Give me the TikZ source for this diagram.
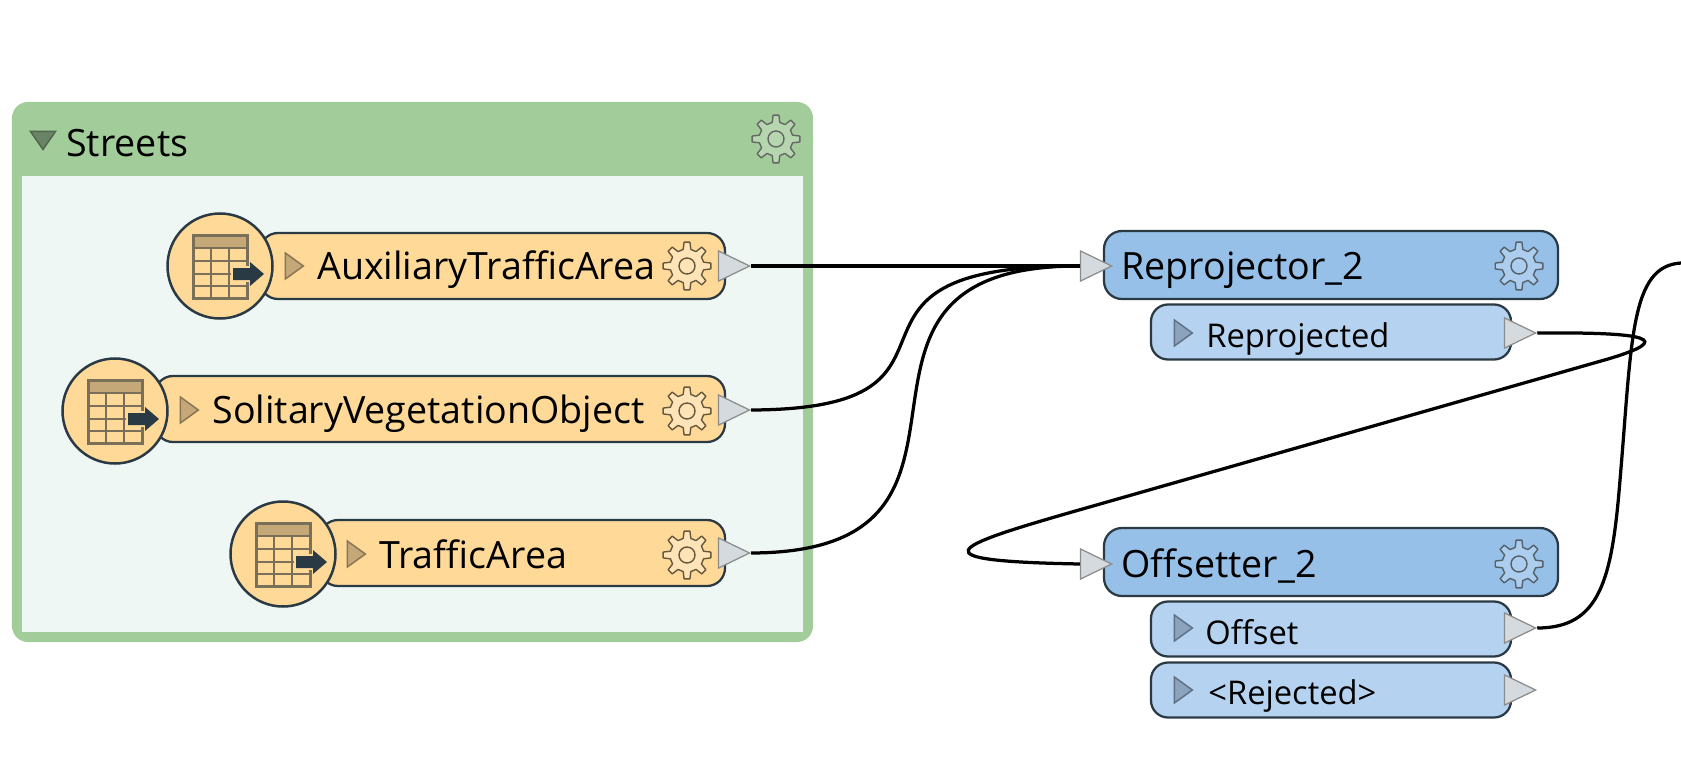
\documentclass[tikz,border=0pt]{standalone}
\usepackage{fontspec}
\setmainfont{Open Sans}
\usetikzlibrary{shapes.geometric}
\definecolor{groupgreen}{HTML}{A3CC9B}
\definecolor{groupfill}{HTML}{EEF7F4}
\definecolor{barorange}{HTML}{FFD998}
\definecolor{boxblue}{HTML}{97C0E8}
\definecolor{subblue}{HTML}{B5D3F0}
\definecolor{edge}{HTML}{2A3A45}
\definecolor{tablebrown}{HTML}{C4A878}
\definecolor{tableline}{HTML}{7A6F58}
\definecolor{portgrey}{HTML}{D5DADE}
\definecolor{markblue}{HTML}{8BA3BF}
\tikzset{
	bigtext/.style={anchor=base west,inner sep=0,font=\fontsize{21.4}{21.4}\selectfont,text=black},
	smalltext/.style={anchor=base west,inner sep=0,font=\fontsize{18.6}{18.6}\selectfont,text=black},
	featbar/.style={draw=edge,line width=.45mm,fill=barorange,rounded corners=3.6mm,minimum height=13.2mm,inner sep=0},
	mainbox/.style={draw=edge,line width=.45mm,fill=boxblue,rounded corners=3.6mm,minimum width=90.8mm,minimum height=13.6mm,inner sep=0},
	subbox/.style={draw=edge,line width=.45mm,fill=subblue,rounded corners=3.4mm,minimum width=72mm,minimum height=11mm,inner sep=0},
	readercircle/.style={circle,draw=edge,line width=.5mm,fill=barorange,minimum size=21mm,inner sep=0},
	port/.style={isosceles triangle,isosceles triangle stretches,shape border rotate=0,draw=black!45,line width=.25mm,fill=portgrey,minimum width=6mm,minimum height=6.2mm,inner sep=0},
	marker/.style={isosceles triangle,isosceles triangle stretches,shape border rotate=0,draw=#1!70!black,line width=.3mm,fill=#1,minimum width=5.2mm,minimum height=3.6mm,inner sep=0},
	wire/.style={draw=black,line width=.65mm}
}
% gear: x, y, line colour, fill colour
\newcommand{\gearicon}[4]{
	\draw[shift={(#1,#2)},draw=#3,fill=#4,line width=.28mm,line join=round] (-13:17) \foreach \a in {0,45,...,315} {-- (\a-13:17) -- (\a-7:24) -- (\a+7:24) -- (\a+13:17)} -- cycle (0:8) arc (0:360:8);
}
% table with arrow, at the centre of a reader circle
\newcommand{\tableicon}[2]{
	\begin{scope}[shift={(#1,#2)}]
		\fill[tablebrown] (-27,-31) rectangle (27,-18);
		\draw[tableline,line width=.6mm] (-27,-31) rectangle (27,32);
		\foreach \u in {-18,-5,8,20} \draw[tableline,line width=.55mm] (-27,\u) -- (27,\u);
		\foreach \u in {-9,9} \draw[tableline,line width=.55mm] (\u,-18) -- (\u,32);
		\fill[barorange] (11,0) rectangle (31,16);
		\fill[edge] (13,2) -- (30,2) -- (30,-4) -- (44,8) -- (30,20) -- (30,14) -- (13,14) -- cycle;
	\end{scope}
}
\begin{document}
\begin{tikzpicture}[x=.2mm,y=-.2mm]
	\useasboundingbox (0,0) rectangle (1681,772);
	% group
	\node[fill=groupgreen,rounded corners=3.2mm,minimum width=160.2mm,minimum height=108mm,inner sep=0] (streets) at (412.5,372) {};
	\node[fill=groupfill,minimum width=156.2mm,minimum height=91.2mm,inner sep=0] (streetsinner) at (412.5,404) {};
	\node[isosceles triangle,isosceles triangle stretches,shape border rotate=-90,draw=black!50!groupgreen,fill=black!35!groupgreen,line width=.3mm,minimum width=5mm,minimum height=3.6mm,inner sep=0] (streetsmark) at (43,138) {};
	\node[bigtext] (streetslabel) at (66,157) {Streets};
	\gearicon{776}{139}{black!60}{groupgreen!80!white}
	% features
	\node[featbar,minimum width=93mm] (auxbar) at (492.5,266) {};
	\node[featbar,minimum width=114mm] (solbar) at (440,409) {};
	\node[featbar,minimum width=81mm] (trafbar) at (522.5,553) {};
	\node[readercircle] (auxcircle) at (220,266) {};
	\node[readercircle] (solcircle) at (115,411) {};
	\node[readercircle] (trafcircle) at (283,554) {};
	\tableicon{220}{266}
	\tableicon{115}{411}
	\tableicon{283}{554}
	\node[marker=tablebrown] (auxmark) at (292,266) {};
	\node[marker=tablebrown] (solmark) at (187,410) {};
	\node[marker=tablebrown] (trafmark) at (354,554) {};
	\node[bigtext] (auxlabel) at (317,279) {AuxiliaryTrafficArea};
	\node[bigtext] (sollabel) at (212,423) {SolitaryVegetationObject};
	\node[bigtext] (traflabel) at (379,568) {TrafficArea};
	\gearicon{687}{266}{black!60!barorange}{barorange!70!white}
	\gearicon{687}{411}{black!60!barorange}{barorange!70!white}
	\gearicon{687}{555}{black!60!barorange}{barorange!70!white}
	\node[port] (auxport) at (728,266) {};
	\node[port] (solport) at (728,410) {};
	\node[port] (trafport) at (728,553) {};
	% transformers
	\node[subbox] (reprojected) at (1331,332) {};
	\node[mainbox] (reprojector) at (1331,265) {};
	\node[subbox] (offset) at (1331,629) {};
	\node[subbox] (rejected) at (1331,690) {};
	\node[mainbox] (offsetter) at (1331,562) {};
	\node[port] (reprojin) at (1090,266) {};
	\node[port] (offsetin) at (1090,564) {};
	\node[port] (reprojout) at (1514,333) {};
	\node[port] (offsetout) at (1514,628) {};
	\node[port] (rejectout) at (1514,690) {};
	\node[marker=markblue] (reprojmark) at (1181,333) {};
	\node[marker=markblue] (offsetmark) at (1181,628) {};
	\node[marker=markblue] (rejectmark) at (1181,690) {};
	\node[bigtext] (reprojlabel) at (1121,279) {Reprojector\_2};
	\node[bigtext] (offsetterlabel) at (1121,577) {Offsetter\_2};
	\node[smalltext] (reprojectedlabel) at (1206,347) {Reprojected};
	\node[smalltext] (offsetlabel) at (1205,644) {Offset};
	\node[smalltext] (rejectedlabel) at (1208,704) {<Rejected>};
	\gearicon{1519}{266}{edge!80}{boxblue!80!white}
	\gearicon{1519}{564}{edge!80}{boxblue!80!white}
	% wires
	\coordinate (offwireend) at (1681,263);
	\draw[wire] (auxport.apex) -- (reprojin.lower side);
	\draw[wire] (solport.apex) .. controls (1005,409) and (795,265) .. (reprojin.lower side);
	\draw[wire] (trafport.apex) .. controls (1035,552) and (790,265) .. (reprojin.lower side);
	\draw[wire] (reprojout.apex) .. controls (1650,332) and (1675,339) .. (1608,359) -- (1072,512) .. controls (950,547) and (915,561) .. (offsetin.lower side);
	\draw[wire] (offsetout.apex) .. controls (1600,628) and (1612,580) .. (1620,480) .. controls (1632,340) and (1630,266) .. (offwireend);
\end{tikzpicture}
\end{document}
